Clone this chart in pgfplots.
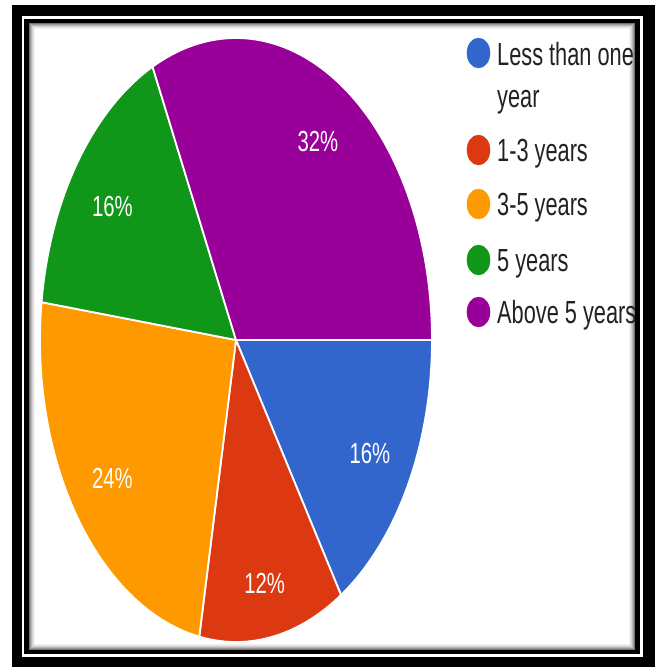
\documentclass[border=0pt]{standalone}
\usepackage{pgfplots}
\pgfplotsset{compat=1.18}
\usepackage{fontspec}
\setmainfont{Liberation Sans}
\definecolor{gblue}{HTML}{3366CC}
\definecolor{gred}{HTML}{DC3912}
\definecolor{gorange}{HTML}{FF9900}
\definecolor{ggreen}{HTML}{109618}
\definecolor{gpurple}{HTML}{990099}
\definecolor{ltxt}{HTML}{222222}
% data (percent)
\def\pA{16}\def\pB{12}\def\pC{24}\def\pD{16}\def\pE{32}
\pgfmathsetmacro\aA{0}
\pgfmathsetmacro\aB{\aA+3.6*\pA}
\pgfmathsetmacro\aC{\aB+3.6*\pB}
\pgfmathsetmacro\aD{\aC+3.6*\pC}
\pgfmathsetmacro\aE{\aD+3.6*\pD}
\pgfmathsetmacro\aF{\aE+3.6*\pE}
\def\cx{236}\def\cy{340}\def\rx{196}\def\ry{302}
\def\lr{0.78}
\pgfmathsetmacro\xA{\cx+\lr*\rx*cos((\aA+\aB)/2)}\pgfmathsetmacro\yA{\cy+\lr*\ry*sin((\aA+\aB)/2)}
\pgfmathsetmacro\xB{\cx+\lr*\rx*cos((\aB+\aC)/2)}\pgfmathsetmacro\yB{\cy+0.82*\ry*sin((\aB+\aC)/2)}
\pgfmathsetmacro\xC{\cx+\lr*\rx*cos((\aC+\aD)/2)}\pgfmathsetmacro\yC{\cy+\lr*\ry*sin((\aC+\aD)/2)}
\pgfmathsetmacro\xD{\cx+\lr*\rx*cos((\aD+\aE)/2)}\pgfmathsetmacro\yD{\cy+0.75*\ry*sin((\aD+\aE)/2)}
\pgfmathsetmacro\xE{\cx+\lr*\rx*cos((\aE+\aF)/2)}\pgfmathsetmacro\yE{\cy+\lr*\ry*sin((\aE+\aF)/2)}
\newcommand\pctlab[1]{\scalebox{0.70}[1]{\fontsize{29}{34}\selectfont #1}}
\newcommand\legtxt[1]{\scalebox{0.68}[1]{\fontsize{32}{38}\selectfont #1}}
\begin{document}
\begin{tikzpicture}
\begin{axis}[
  width=657pt, height=667pt, scale only axis,
  xmin=0, xmax=657, ymin=0, ymax=667, y dir=reverse,
  axis lines=none, clip=false]
% background and frame
\fill[white] (axis cs:0,0) rectangle (axis cs:657,667);
\fill[black] (axis cs:12,5) rectangle (axis cs:655,667);
\fill[white] (axis cs:22,16) rectangle (axis cs:643,657);
\fill[black] (axis cs:24,19) rectangle (axis cs:640,654);
\fill[white] (axis cs:29,23) rectangle (axis cs:635,650);
\draw[black!55, line width=1pt] (axis cs:29.5,23.5) rectangle (axis cs:634.5,649.5);
\draw[black!40, line width=1pt] (axis cs:30.5,24.5) rectangle (axis cs:633.5,648.5);
\draw[black!28, line width=1pt] (axis cs:31.5,25.5) rectangle (axis cs:632.5,647.5);
\draw[black!18, line width=1pt] (axis cs:32.5,26.5) rectangle (axis cs:631.5,646.5);
\draw[black!10, line width=1pt] (axis cs:33.5,27.5) rectangle (axis cs:630.5,645.5);
\draw[black!5, line width=1pt] (axis cs:34.5,28.5) rectangle (axis cs:629.5,644.5);
% pie
\addplot[draw=white, line width=1.8pt, fill=gblue, domain=\aA:\aB, samples=60, variable=\q]
  ({\cx+\rx*cos(\q)},{\cy+\ry*sin(\q)}) -- (axis cs:\cx,\cy) -- cycle;
\addplot[draw=white, line width=1.8pt, fill=gred, domain=\aB:\aC, samples=60, variable=\q]
  ({\cx+\rx*cos(\q)},{\cy+\ry*sin(\q)}) -- (axis cs:\cx,\cy) -- cycle;
\addplot[draw=white, line width=1.8pt, fill=gorange, domain=\aC:\aD, samples=60, variable=\q]
  ({\cx+\rx*cos(\q)},{\cy+\ry*sin(\q)}) -- (axis cs:\cx,\cy) -- cycle;
\addplot[draw=white, line width=1.8pt, fill=ggreen, domain=\aD:\aE, samples=60, variable=\q]
  ({\cx+\rx*cos(\q)},{\cy+\ry*sin(\q)}) -- (axis cs:\cx,\cy) -- cycle;
\addplot[draw=white, line width=1.8pt, fill=gpurple, domain=\aE:\aF, samples=80, variable=\q]
  ({\cx+\rx*cos(\q)},{\cy+\ry*sin(\q)}) -- (axis cs:\cx,\cy) -- cycle;
% percentage labels
\node[text=white] at (axis cs:\xA,\yA) {\pctlab{\pA\%}};
\node[text=white] at (axis cs:\xB,\yB) {\pctlab{\pB\%}};
\node[text=white] at (axis cs:\xC,\yC) {\pctlab{\pC\%}};
\node[text=white] at (axis cs:\xD,\yD) {\pctlab{\pD\%}};
\node[text=white] at (axis cs:\xE,\yE) {\pctlab{\pE\%}};
% legend
\addplot[only marks, mark=*, mark size=15pt, mark options={xscale=0.77}, color=gblue] coordinates {(478.5,53)};
\addplot[only marks, mark=*, mark size=15pt, mark options={xscale=0.77}, color=gred] coordinates {(478.5,150)};
\addplot[only marks, mark=*, mark size=15pt, mark options={xscale=0.77}, color=gorange] coordinates {(478.5,204)};
\addplot[only marks, mark=*, mark size=15pt, mark options={xscale=0.77}, color=ggreen] coordinates {(478.5,260)};
\addplot[only marks, mark=*, mark size=15pt, mark options={xscale=0.77}, color=gpurple] coordinates {(478.5,312)};
\node[anchor=base west, inner sep=0pt, text=ltxt] at (axis cs:497,65) {\legtxt{Less than one}};
\node[anchor=base west, inner sep=0pt, text=ltxt] at (axis cs:497,107) {\legtxt{year}};
\node[anchor=base west, inner sep=0pt, text=ltxt] at (axis cs:497,161.5) {\legtxt{1-3 years}};
\node[anchor=base west, inner sep=0pt, text=ltxt] at (axis cs:497,215.5) {\legtxt{3-5 years}};
\node[anchor=base west, inner sep=0pt, text=ltxt] at (axis cs:497,271.5) {\legtxt{5 years}};
\node[anchor=base west, inner sep=0pt, text=ltxt] at (axis cs:497,323.5) {\legtxt{Above 5 years}};
\end{axis}
\end{tikzpicture}
\end{document}
